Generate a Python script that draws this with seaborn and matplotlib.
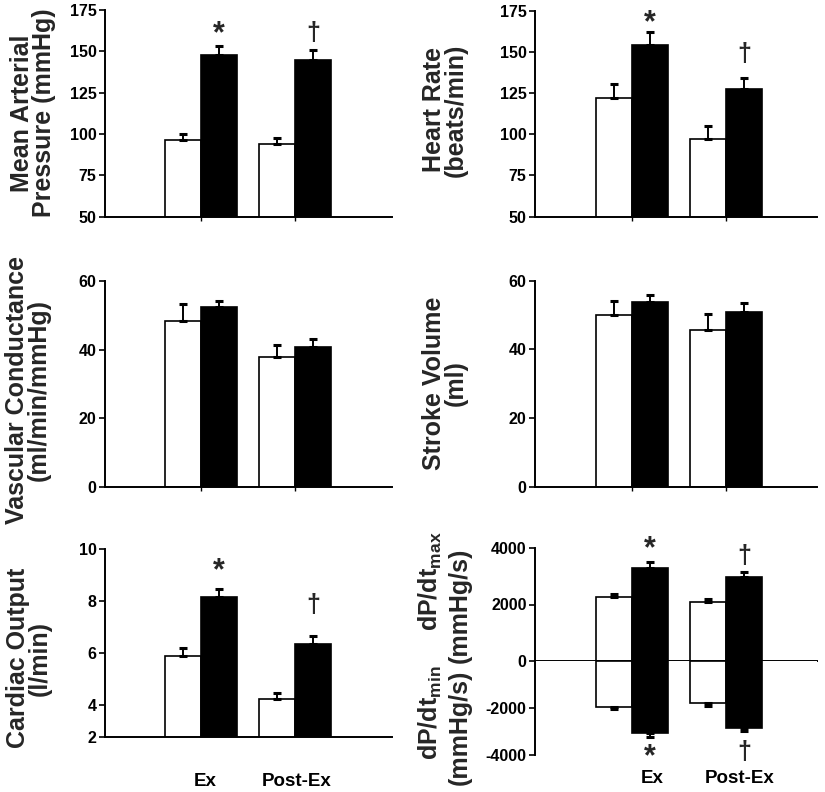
import numpy as np
import pandas as pd
import matplotlib
matplotlib.use('Agg')
import matplotlib.pyplot as plt
import seaborn as sns

groups = ['Ex', 'Post-Ex']
conds = ['Control', 'Test']

map_ctrl = [96.2, 93.8]
map_ctrl_err = [4.0, 4.0]
map_test = [147.5, 145.0]
map_test_err = [5.6, 6.0]

hr_ctrl = [122.0, 97.3]
hr_ctrl_err = [8.3, 7.7]
hr_test = [154.2, 127.3]
hr_test_err = [7.7, 6.7]

vc_ctrl = [48.4, 37.8]
vc_ctrl_err = [4.7, 3.4]
vc_test = [52.3, 40.7]
vc_test_err = [1.9, 2.4]

sv_ctrl = [50.0, 45.7]
sv_ctrl_err = [4.2, 4.5]
sv_test = [53.7, 51.0]
sv_test_err = [2.1, 2.6]

co_ctrl = [5.87, 4.24]
co_ctrl_err = [0.31, 0.23]
co_test = [8.13, 6.36]
co_test_err = [0.31, 0.31]

dpmax_ctrl = [2268, 2100]
dpmax_ctrl_err = [106, 96]
dpmax_test = [3290, 2990]
dpmax_test_err = [234, 178]

dpmin_ctrl = [-1950, -1806]
dpmin_ctrl_err = [85, 102]
dpmin_test = [-3053, -2866]
dpmin_test_err = [169, 114]

# significance marks over the filled bars (Ex, Post-Ex)
marks = ['*', '\u2020']
map_mark_y = [161, 161]
hr_mark_y = [167.8, 148.7]
co_mark_y = [9.18, 7.83]
dpmax_mark_y = [4010, 3730]
dpmin_mark_y = [-4040, -3890]

sns.set_style('white')
plt.rcParams['font.family'] = ['Liberation Sans', 'DejaVu Sans']
plt.rcParams['font.weight'] = 'bold'
plt.rcParams['mathtext.default'] = 'regular'
plt.rcParams['axes.unicode_minus'] = False

W, H = 825, 792
fig = plt.figure(figsize=(W / 100, H / 100), dpi=100)


def px_axes(x0, x1, y0, y1):
    # pixel box -> figure fraction
    return fig.add_axes([x0 / W, 1 - y1 / H, (x1 - x0) / W, (y1 - y0) / H])


def draw_bars(ax, ctrl, test, ctrl_err, test_err, down=False):
    df = pd.DataFrame({'group': groups * 2,
                       'cond': [conds[0]] * 2 + [conds[1]] * 2,
                       'value': ctrl + test})
    sns.barplot(data=df, x='group', y='value', hue='cond', order=groups,
                hue_order=conds, palette=['white', 'black'], saturation=1,
                edgecolor='black', linewidth=1.2, width=0.76,
                errorbar=None, legend=False, ax=ax)
    bars = sorted(ax.patches, key=lambda p: p.get_x())
    errs = [ctrl_err[0], test_err[0], ctrl_err[1], test_err[1]]
    xs = [p.get_x() + p.get_width() / 2 for p in bars]
    ys = [p.get_y() + p.get_height() for p in bars]
    zero = [0] * 4
    yerr = [errs, zero] if down else [zero, errs]
    ax.errorbar(xs, ys, yerr=yerr, fmt='none', ecolor='black',
                elinewidth=1.4, capsize=2.6, capthick=2.2)
    ax.set_xlabel('')
    ax.set_ylabel('')
    return xs


def style(ax, xlim, ylim, yticks, ylabels=None):
    ax.set_xlim(xlim)
    ax.set_ylim(ylim)
    ax.set_yticks(yticks)
    if ylabels is not None:
        ax.set_yticklabels(ylabels)
    sns.despine(ax=ax)
    for s in ['left', 'bottom']:
        ax.spines[s].set_linewidth(1.4)
        ax.spines[s].set_color('black')
    ax.tick_params(axis='y', direction='out', length=4, width=1.2,
                   labelsize=11.5, pad=2, colors='black', left=True)
    ax.tick_params(axis='x', direction='out', length=3, width=1,
                   labelbottom=False, colors='black', bottom=True)
    ax.set_xticks([0, 1])


def add_marks(ax, xs, ys, size=(22, 18)):
    for m, x, y in zip(marks, [xs[1], xs[3]], ys):
        star = m == '*'
        # mathtext gives the asterisk a tight box, centred on the glyph
        ax.text(x, y, '$*$' if star else m, ha='center', va='center',
                fontweight='bold', fontsize=size[0] if star else size[1],
                clip_on=False)


left_xlim = (-96 / 94, 1 + 97 / 94)
right_xlim = (-97 / 94, 1 + 91 / 94)

# Mean arterial pressure
ax = px_axes(105, 392, 10, 216.7)
xs = draw_bars(ax, map_ctrl, map_test, map_ctrl_err, map_test_err)
style(ax, left_xlim, (50, 175), [50, 75, 100, 125, 150, 175])
add_marks(ax, xs, map_mark_y)

# Heart rate
ax = px_axes(535, 817, 10.7, 216.7)
xs = draw_bars(ax, hr_ctrl, hr_test, hr_ctrl_err, hr_test_err)
style(ax, right_xlim, (50, 175), [50, 75, 100, 125, 150, 175])
add_marks(ax, xs, hr_mark_y)

# Vascular conductance
ax = px_axes(105, 392, 280.7, 487.3)
draw_bars(ax, vc_ctrl, vc_test, vc_ctrl_err, vc_test_err)
style(ax, left_xlim, (0, 60), [0, 20, 40, 60])

# Stroke volume
ax = px_axes(535, 817, 280.7, 486.7)
draw_bars(ax, sv_ctrl, sv_test, sv_ctrl_err, sv_test_err)
style(ax, right_xlim, (0, 60), [0, 20, 40, 60])

# Cardiac output
ax = px_axes(105, 392, 548.7, 737.3)
xs = draw_bars(ax, co_ctrl, co_test, co_ctrl_err, co_test_err)
style(ax, left_xlim, (2.77, 10), [2.77, 4, 6, 8, 10], ['2', '4', '6', '8', '10'])
add_marks(ax, xs, co_mark_y)
ax.set_xticks([0.04, 1.02])
ax.set_xticklabels(groups)
ax.tick_params(axis='x', length=0, labelbottom=True, labelsize=13.5, pad=26)

# dP/dt max (upper half)
ax = px_axes(535, 817, 548.3, 660.7)
xs = draw_bars(ax, dpmax_ctrl, dpmax_test, dpmax_ctrl_err, dpmax_test_err)
style(ax, right_xlim, (0, 4000), [0, 2000, 4000])
ax.tick_params(axis='x', length=0)
add_marks(ax, xs, dpmax_mark_y)

# dP/dt min (lower half)
ax = px_axes(535, 817, 660.7, 755)
xs = draw_bars(ax, dpmin_ctrl, dpmin_test, dpmin_ctrl_err, dpmin_test_err, down=True)
style(ax, right_xlim, (-4000, 0), [-4000, -2000])
ax.spines['bottom'].set_visible(False)
add_marks(ax, xs, dpmin_mark_y)
ax.set_xticks([0.22, 1.15])
ax.set_xticklabels(groups)
ax.tick_params(axis='x', length=0, labelbottom=True, labelsize=13.5, pad=11)

# axis titles
lab = dict(rotation=90, ha='center', va='center', fontsize=18,
           fontweight='bold', linespacing=0.9, multialignment='center')
fig.text(33 / W, 1 - 113 / H, 'Mean Arterial\nPressure (mmHg)', **lab)
fig.text(445 / W, 1 - 110 / H, 'Heart Rate\n(beats/min)', **lab)
fig.text(28 / W, 1 - 390 / H, 'Vascular Conductance\n(ml/min/mmHg)', **lab)
fig.text(445 / W, 1 - 383 / H, 'Stroke Volume\n(ml)', **lab)
fig.text(29 / W, 1 - 658 / H, 'Cardiac Output\n(l/min)', **lab)
fig.text(430 / W, 1 - 581 / H, r'dP/dt$_{max}$', **lab)
fig.text(460 / W, 1 - 605 / H, '(mmHg/s)', **lab)
fig.text(430 / W, 1 - 713 / H, r'dP/dt$_{min}$', **lab)
fig.text(460 / W, 1 - 727 / H, '(mmHg/s)', **lab)

fig.savefig('out.png', dpi=100, facecolor='white')
